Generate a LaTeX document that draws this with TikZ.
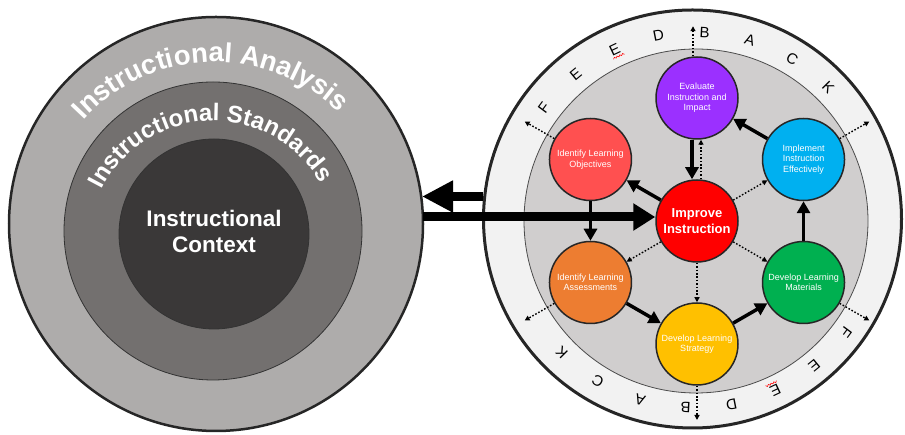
\documentclass[tikz,border=0pt]{standalone}
\usepackage{fontspec}
\setmainfont{Liberation Sans}
\usetikzlibrary{arrows.meta,decorations.text}

\definecolor{analysisgray}{HTML}{AEACAB}
\definecolor{standardsgray}{HTML}{73706F}
\definecolor{contextgray}{HTML}{3A3838}
\definecolor{ringgray}{HTML}{F2F2F2}
\definecolor{cyclegray}{HTML}{D0CECE}
\definecolor{evalpurple}{HTML}{9B30FF}
\definecolor{objred}{HTML}{FF5050}
\definecolor{implblue}{HTML}{00B0F0}
\definecolor{assessorange}{HTML}{ED7D31}
\definecolor{stratyellow}{HTML}{FFC000}
\definecolor{matgreen}{HTML}{00B050}

\tikzset{
    stage/.style={circle, draw=black!85, line width=1.5pt, minimum size=82pt, inner sep=0pt,
        align=center, text=white, font=\fontsize{9}{10.5}\selectfont},
    flow/.style={line width=3.5pt, -{Triangle[length=12pt,width=13pt]}},
    hint/.style={line width=1.4pt, dash pattern=on 1.6pt off 1.8pt, -{Triangle[length=5pt,width=5pt]}},
    letter/.style={font=\fontsize{15}{15}\selectfont, inner sep=0pt},
    bigarrow/.style={line width=9pt, -{Triangle[length=22pt,width=26pt]}},
}

\begin{document}
\begin{tikzpicture}[x=1pt,y=1pt]

    \useasboundingbox (0,0) rectangle (905,435);

    \filldraw[fill=analysisgray, draw=black!85, line width=2.5pt] (216,211) circle (207);
    \filldraw[fill=standardsgray, draw=black!80, line width=0.8pt] (213,204) circle (149);
    \filldraw[fill=contextgray, draw=black!80, line width=0.8pt] (214,201) circle (95);

    \coordinate (analysisc) at (215,195);
    \coordinate (standardsc) at (213,190);
    \path[decorate, decoration={text along path, text align=center, text color=white,
        text={|\bfseries\fontsize{27.5}{27.5}\selectfont|Instructional Analysis}}]
        ([shift={(151.8:178)}]analysisc) arc[start angle=151.8, end angle=31.8, radius=178];
    \path[decorate, decoration={text along path, text align=center, text color=white,
        text={|\bfseries\fontsize{24}{24}\selectfont|Instructional Standards}}]
        ([shift={(171.7:124)}]standardsc) arc[start angle=171.7, end angle=11.7, radius=124];
    \node[text=white, align=center, font=\bfseries\fontsize{22.5}{26}\selectfont] (context) at (214,203.5)
        {Instructional\\Context};

    \filldraw[fill=ringgray, draw=black!85, line width=3pt] (692.5,216) circle (209);
    \filldraw[fill=cyclegray, draw=black!70, line width=0.8pt] (696,214) circle (172);

    \coordinate (fb) at (695,215);
    \foreach \ch [count=\i from 0] in {F,E,E,D,B,A,C,K} {
        \pgfmathsetmacro\a{143.5-14.1*\i}
        \node[letter, rotate=\a-90] (top\i) at ([shift={(\a:188)}]fb) {\ch};
        \node[letter, rotate=\a+90] (bot\i) at ([shift={(\a+180:188)}]fb) {\ch};
    }
    \foreach \r in {25.3,205.3}
        \draw[red, line width=0.6pt, shift={(fb)}, rotate=\r]
            (-5,180) -- (-3.5,181.5) -- (-2,180) -- (-0.5,181.5) -- (1,180)
            -- (2.5,181.5) -- (4,180) -- (5.5,181.5) -- (7,180);

    \node[stage, fill=red, font=\bfseries\fontsize{13}{15.5}\selectfont] (improve) at (697,214)
        {Improve\\Instruction};
    \node[stage, fill=evalpurple] (evaluate) at ([shift={(90:123)}]improve.center)
        {Evaluate\\Instruction and\\Impact};
    \node[stage, fill=objred] (objectives) at ([shift={(150:123)}]improve.center)
        {Identify Learning\\Objectives};
    \node[stage, fill=implblue] (implement) at ([shift={(30:123)}]improve.center)
        {Implement\\Instruction\\Effectively};
    \node[stage, fill=assessorange] (assessments) at ([shift={(210:123)}]improve.center)
        {Identify Learning\\Assessments};
    \node[stage, fill=stratyellow] (strategy) at ([shift={(270:123)}]improve.center)
        {Develop Learning\\Strategy};
    \node[stage, fill=matgreen] (materials) at ([shift={(330:123)}]improve.center)
        {Develop Learning\\Materials};

    \draw[flow] (objectives) -- (assessments);
    \draw[flow] (assessments) -- (strategy);
    \draw[flow] (strategy) -- (materials);
    \draw[flow] (materials) -- (implement);
    \draw[flow] (implement) -- (evaluate);
    \draw[flow] ([xshift=-5pt]evaluate.south) -- ([xshift=-5pt]improve.north);
    \draw[flow] (improve) -- (objectives);

    \draw[hint] ([xshift=4pt]improve.north) -- ([xshift=4pt]evaluate.south);
    \foreach \s in {implement,materials,strategy,assessments}
        \draw[hint] (improve) -- (\s);
    \foreach \s/\a in {objectives/150,implement/30,assessments/210,materials/330,strategy/270}
        \draw[hint] (\s) -- ([shift={(\a:76)}]\s.center);
    \draw[hint] ([xshift=-4pt]evaluate.north) -- ([shift={(-4pt,30pt)}]evaluate.north);

    \coordinate (ringedge) at (483,238.5);
    \coordinate (analysisedge) at (422,238.5);
    \coordinate (contextedge) at (423,218);
    \draw[line width=9pt, -{Triangle[length=31pt,width=30pt]}] (ringedge) -- (analysisedge);
    \draw[bigarrow] (contextedge) -- (contextedge -| improve.west);

\end{tikzpicture}
\end{document}
